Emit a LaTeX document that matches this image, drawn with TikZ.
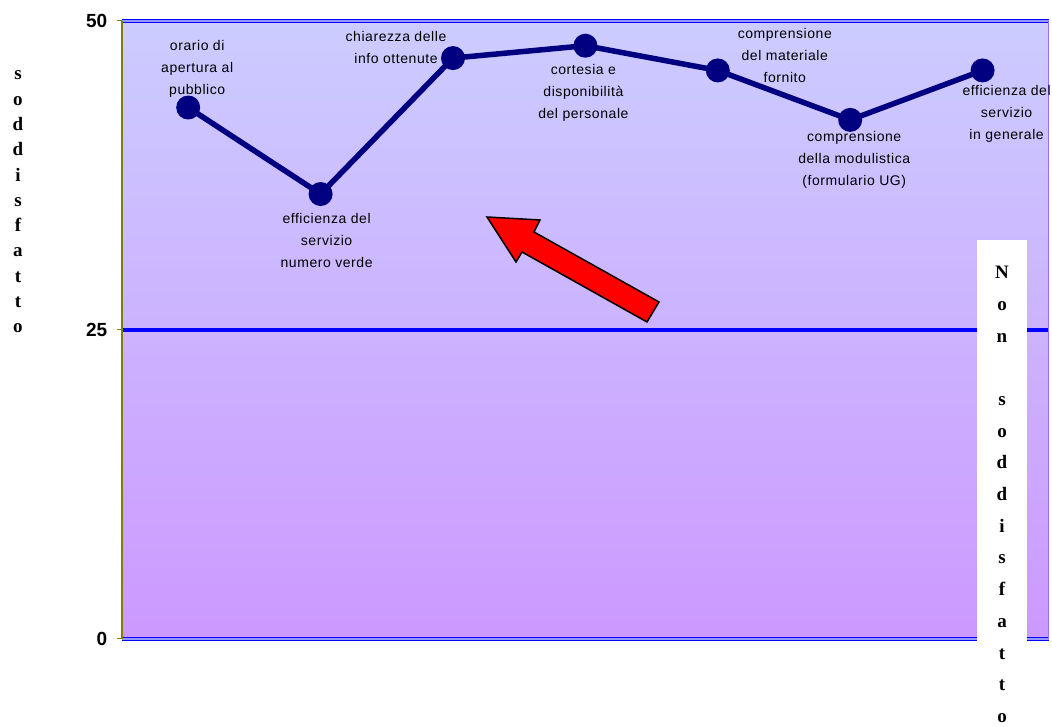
\documentclass[tikz,border=0pt]{standalone}
\usepackage{fontspec}
\setmainfont{Liberation Serif}
\setsansfont{Liberation Sans}
\newfontfamily\catfont[LetterSpace=4]{Liberation Sans}
\usetikzlibrary{positioning}

\definecolor{bgtop}{RGB}{204,204,255}
\definecolor{bgbot}{RGB}{204,153,255}
\definecolor{axisolive}{RGB}{128,128,0}
\definecolor{datanavy}{RGB}{0,0,128}
\definecolor{frameblue}{RGB}{0,0,255}
\definecolor{framelight}{RGB}{150,150,255}
\definecolor{edgeviolet}{RGB}{150,110,255}

\tikzset{
  datadot/.style={circle, fill=datanavy, inner sep=0pt, minimum size=24pt},
  catlabel/.style={font=\catfont\fontsize{14}{22}\selectfont, align=center, inner sep=0pt},
  ticklabel/.style={font=\sffamily\bfseries\fontsize{19}{19}\selectfont, anchor=east, inner sep=0pt},
  vtext/.style={font=\rmfamily\bfseries\fontsize{19}{25.3}\selectfont, align=center, inner sep=0pt},
  plotframe/.style={frameblue, line width=1.5pt, double=framelight, double distance=1.2pt},
}

\begin{document}
\begin{tikzpicture}[x=132.4pt, y=12.36pt]
    \useasboundingbox (-122pt,-88pt) rectangle (930pt,639pt);
    % Plot area
    \shade[top color=bgtop, bottom color=bgbot] (0,0) rectangle (7,50);
    % Threshold at 25
    \draw[frameblue, line width=4pt] (0,25) -- (7,25);
    % Frame
    \draw[plotframe] (0,50) -- (7,50);
    \draw[plotframe] (0,0) -- (7,0);
    \draw[edgeviolet, line width=1pt] (7,0) -- (7,50);
    % Axis and ticks
    \draw[axisolive, line width=2pt] (0,0) -- (0,50);
    \foreach \v in {0,25,50} {
        \draw[axisolive, line width=1pt] ([xshift=-5pt]0,\v) -- (0,\v);
        \node[ticklabel] (t\v) at ([xshift=-14.5pt]0,\v) {\v};
    }
    % Scores
    \foreach \i/\v in {1/43, 2/36, 3/47, 4/48, 5/46, 6/42, 7/46}
        \coordinate (c\i) at (\i-0.5,\v);
    % Category labels
    \node[catlabel] (l1) at ([shift={(9pt,39pt)}]c1) {orario di\\apertura al\\pubblico};
    \node[catlabel] (l2) at ([shift={(6pt,-46pt)}]c2) {efficienza del\\servizio\\numero verde};
    \node[catlabel] (l3) at ([shift={(-57pt,11pt)}]c3) {chiarezza delle\\info ottenute};
    \node[catlabel] (l4) at ([shift={(-2pt,-47pt)}]c4) {cortesia e\\disponibilità\\del personale};
    \node[catlabel] (l5) at ([shift={(67pt,15pt)}]c5) {comprensione\\del materiale\\fornito};
    \node[catlabel] (l6) at ([shift={(4pt,-40pt)}]c6) {comprensione\\della modulistica\\(formulario UG)};
    \node[catlabel] (l7) at ([shift={(24pt,-43pt)}]c7) {efficienza del\\servizio\\in generale};
    % Line and markers
    \draw[datanavy, line width=5.5pt, line join=round] (c1) -- (c2) -- (c3) -- (c4) -- (c5) -- (c6) -- (c7);
    \foreach \i in {1,...,7}
        \node[datadot] (p\i) at (c\i) {};
    % Red arrow
    \draw[fill=red, line width=1.5pt, line join=miter]
        (365pt,422pt) -- (418pt,419pt) -- (412pt,407pt) -- (537pt,337pt)
        -- (525pt,317pt) -- (400pt,387pt) -- (394pt,377pt) -- cycle;
    % Side texts
    \node[vtext] (sodd) at (-104pt,437pt) {s\\o\\d\\d\\i\\s\\f\\a\\t\\t\\o};
    \node[vtext, font=\rmfamily\bfseries\fontsize{19}{31.7}\selectfont, fill=white,
          anchor=north, minimum width=50pt, inner ysep=26pt] (nonsodd) at (880pt,399pt)
          {N\\o\\n\\[31.7pt]s\\o\\d\\d\\i\\s\\f\\a\\t\\t\\o};
\end{tikzpicture}
\end{document}
